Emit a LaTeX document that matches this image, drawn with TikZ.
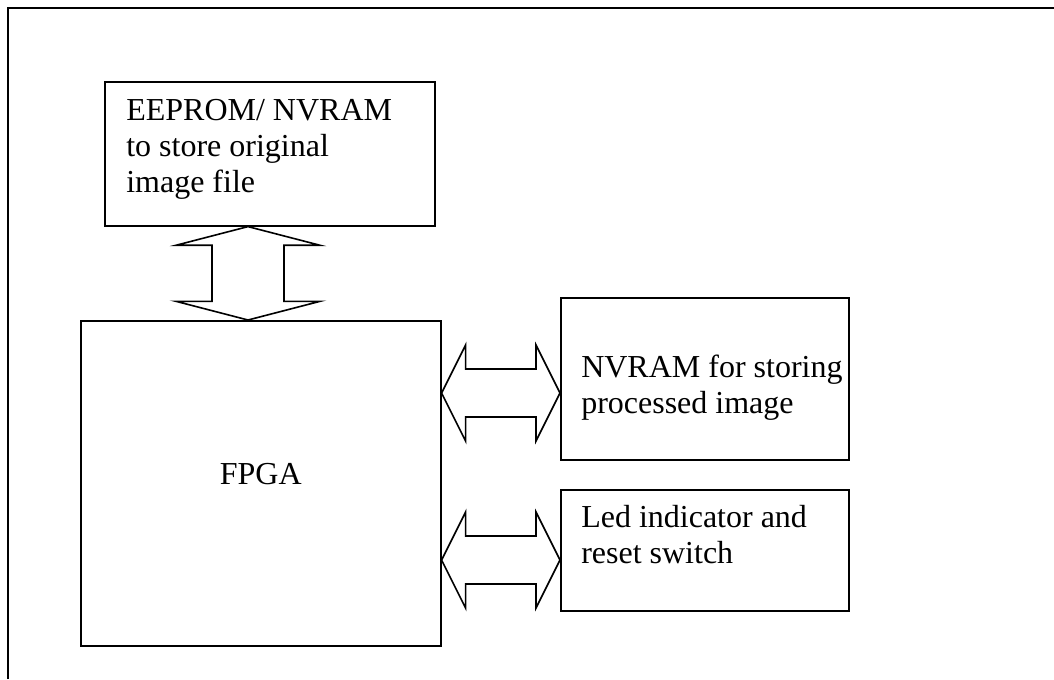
\documentclass[tikz,border=0pt]{standalone}
\usepackage{fontspec}
\setmainfont{Liberation Serif}
\usetikzlibrary{calc}

% invisible rule that fixes the height of a first text line
\newcommand\capstrut{\rule{0pt}{18pt}}

% hollow double-headed block arrow from #1 to #2
% #3 head length, #4 half width of the heads, #5 half width of the shaft
\newcommand\blockarrow[5]{%
  \draw[blockarrow] (#1)
    -- ($(#1)!#3!(#2)!#4!90:(#2)$) -- ($(#1)!#3!(#2)!#5!90:(#2)$)
    -- ($(#2)!#3!(#1)!#5!-90:(#1)$) -- ($(#2)!#3!(#1)!#4!-90:(#1)$)
    -- (#2)
    -- ($(#2)!#3!(#1)!#4!90:(#1)$) -- ($(#2)!#3!(#1)!#5!90:(#1)$)
    -- ($(#1)!#3!(#2)!#5!-90:(#2)$) -- ($(#1)!#3!(#2)!#4!-90:(#2)$)
    -- cycle;}

\tikzset{
  blockbox/.style={draw, line width=1.2pt, rectangle, anchor=north west, inner sep=0pt},
  boxtext/.style={anchor=north west, inner sep=0pt, align=left,
                  font=\fontsize{24pt}{27pt}\selectfont},
  blockarrow/.style={draw, line width=1.2pt, fill=white, line join=miter},
  frame/.style={draw, line width=1.6pt}
}

\begin{document}
\begin{tikzpicture}[x=0.75pt,y=-0.75pt]
  \useasboundingbox (0,0) rectangle (1054,679);

  % outer frame (top and left sides)
  \coordinate (fbl) at (8,679);
  \coordinate (ftl) at (8,8);
  \coordinate (ftr) at (1054,8);
  \draw[frame] (fbl) -- (ftl) -- (ftr);

  % blocks
  \node[blockbox, minimum width=247.5pt, minimum height=108pt] (eeprom) at (104,81) {};
  \node[blockbox, minimum width=270pt, minimum height=243.75pt] (fpga) at (80,320) {};
  \node[blockbox, minimum width=216pt, minimum height=121.5pt] (nvram) at (560,297) {};
  \node[blockbox, minimum width=216pt, minimum height=90.75pt] (led) at (560,489) {};

  % block texts
  \node[boxtext] (eepromtext) at ([shift={(22,15)}]eeprom.north west)
    {\capstrut EEPROM/ NVRAM\\to store original\\image file};
  \node[boxtext] (nvramtext) at ([shift={(21,56)}]nvram.north west)
    {\capstrut NVRAM for storing\\processed image};
  \node[boxtext] (ledtext) at ([shift={(21,14)}]led.north west)
    {\capstrut Led indicator and\\reset switch};
  \node[boxtext, anchor=base] (fpgatext) at ([shift={(0,164)}]fpga.north) {FPGA};

  % arrow end points on the block edges
  \coordinate (v1) at (248,0 |- eeprom.south);
  \coordinate (v2) at (248,0 |- fpga.north);
  \coordinate (h1a) at (fpga.east |- 0,393);
  \coordinate (h1b) at (nvram.west |- 0,393);
  \coordinate (h2a) at (fpga.east |- 0,560);
  \coordinate (h2b) at (led.west |- 0,560);

  % connectors
  \blockarrow{v1}{v2}{14pt}{54pt}{27pt}
  \blockarrow{h1a}{h1b}{18pt}{36pt}{18pt}
  \blockarrow{h2a}{h2b}{18pt}{36pt}{18pt}
\end{tikzpicture}
\end{document}
